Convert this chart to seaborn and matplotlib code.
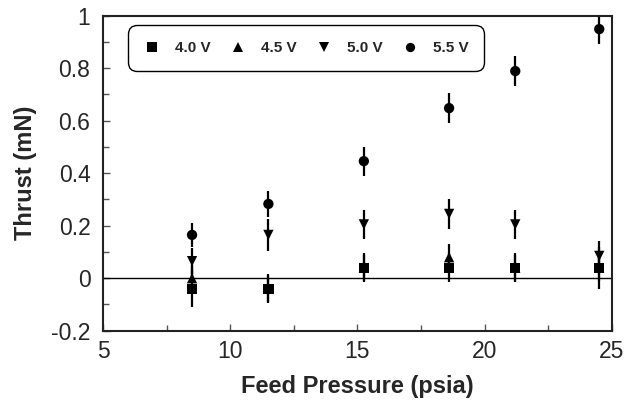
import numpy as np
import pandas as pd
import seaborn as sns
import matplotlib.pyplot as plt
from matplotlib.ticker import MultipleLocator

# datos
pressure = [8.5, 11.5, 15.25, 18.6, 21.2, 24.5]
thrust_40 = [-0.04, -0.04, 0.04, 0.04, 0.04, 0.04]
err_40 = [0.07, 0.055, 0.055, 0.055, 0.055, 0.08]
thrust_45 = [0.0, -0.04, 0.04, 0.08, 0.04, 0.04]
err_45 = [0.05, 0.05, 0.05, 0.05, 0.05, 0.05]
thrust_50 = [0.065, 0.165, 0.205, 0.245, 0.205, 0.085]
err_50 = [0.05, 0.06, 0.055, 0.057, 0.055, 0.055]
thrust_55 = [0.165, 0.283, 0.446, 0.648, 0.789, 0.949]
err_55 = [0.045, 0.05, 0.055, 0.057, 0.057, 0.055]

voltages = ["4.0 V", "4.5 V", "5.0 V", "5.5 V"]
markers = {"4.0 V": "s", "4.5 V": "^", "5.0 V": "v", "5.5 V": "o"}

series = [thrust_40, thrust_45, thrust_50, thrust_55]
errors = [err_40, err_45, err_50, err_55]

rows = []
for v, ys, es in zip(voltages, series, errors):
    for x, y, e in zip(pressure, ys, es):
        rows.append({"pressure": x, "thrust": y, "err": e, "voltage": v})
df = pd.DataFrame(rows)

sns.set_theme(style="ticks")
plt.rcParams["font.family"] = ["Liberation Sans", "DejaVu Sans"]

fig, ax = plt.subplots(figsize=(6.26, 4.09), dpi=100)

for v in voltages:
    d = df[df["voltage"] == v]
    ax.errorbar(d["pressure"], d["thrust"], yerr=d["err"], fmt="none",
                ecolor="black", elinewidth=1.6, capsize=0, zorder=2)

sns.scatterplot(data=df, x="pressure", y="thrust", style="voltage",
                markers=markers, color="black", s=55, edgecolor="black",
                linewidth=0, ax=ax, zorder=3)

ax.axhline(0, color="black", linewidth=1, zorder=1)

ax.set_xlim(5, 25)
ax.set_ylim(-0.2, 1)
ax.xaxis.set_major_locator(MultipleLocator(5))
ax.xaxis.set_minor_locator(MultipleLocator(2.5))
ax.yaxis.set_minor_locator(MultipleLocator(0.1))
ax.set_yticks([-0.2, 0, 0.2, 0.4, 0.6, 0.8, 1])
ax.set_yticklabels(["-0.2", "0", "0.2", "0.4", "0.6", "0.8", "1"])
ax.tick_params(which="both", direction="in", labelsize=16.5, color="#555555")
ax.tick_params(which="major", length=5, width=1)
ax.tick_params(which="minor", length=4, width=1)
ax.tick_params(axis="y", pad=9)
ax.tick_params(axis="x", pad=7)
for s in ax.spines.values():
    s.set_linewidth(1.5)
    s.set_color("#222222")

ax.set_xlabel("Feed Pressure (psia)", fontsize=17, fontweight="bold", labelpad=8)
ax.set_ylabel("Thrust (mN)", fontsize=17, fontweight="bold", labelpad=10)

leg = ax.legend(loc="upper left", bbox_to_anchor=(0.049, 0.97), ncol=4,
                frameon=True, fancybox=True, edgecolor="black",
                prop={"weight": "bold", "size": 11}, columnspacing=1.3,
                handletextpad=1.0, handlelength=1.0, borderpad=1.05,
                borderaxespad=0, markerscale=0.9)
leg.get_frame().set_linewidth(1.0)
leg.get_frame().set_alpha(1)
leg.get_frame().set_boxstyle("round,pad=0,rounding_size=0.6")

fig.subplots_adjust(left=0.1645, right=0.9776, top=0.9616, bottom=0.1914)
plt.savefig("out.png", dpi=100)
